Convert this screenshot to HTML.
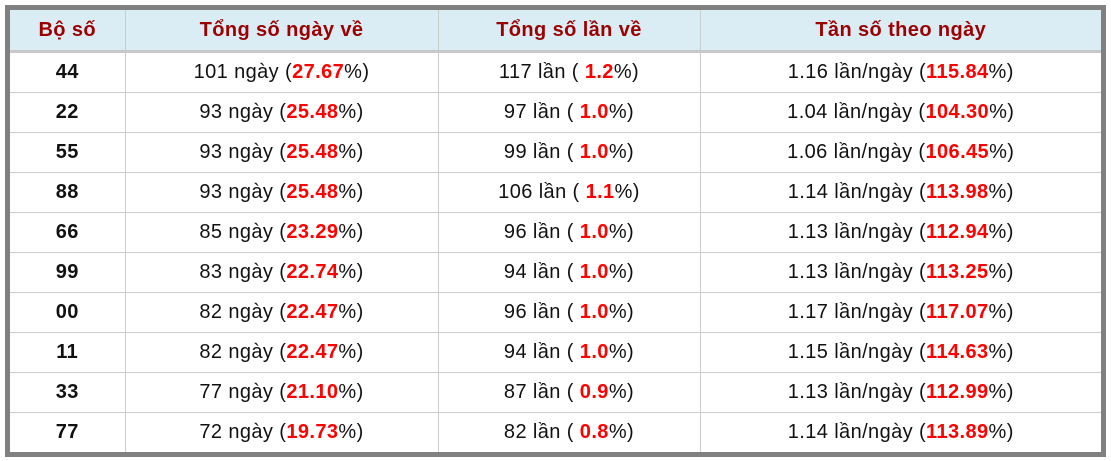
<!DOCTYPE html>
<html><head><meta charset="utf-8"><style>
body{margin:0;background:#fff;width:1111px;height:461px;overflow:hidden}
.wrap{position:absolute;left:5px;top:5px;width:1091px;border:5px solid #808080;background:#fff}
table{border-collapse:collapse;width:1091px;table-layout:fixed;font-family:"Liberation Sans",sans-serif;font-size:20px;letter-spacing:0.4px}
th{background:#daedf5;color:#9c0000;font-weight:bold;height:38px;border-bottom:3px solid #c8c8c8;border-left:1px solid #ccc}
td{height:39px;border-top:1px solid #ccc;border-left:1px solid #ccc;text-align:center;color:#111;padding:0}
tr td:first-child,tr th:first-child{border-left:none}
tr:nth-child(2) td{border-top:none}
td:first-child{font-weight:bold}
b{color:#f00}
</style></head><body><div class="wrap"><table>
<colgroup><col style="width:115px"><col style="width:313px"><col style="width:262px"><col></colgroup>
<tr><th>Bộ số</th><th>Tổng số ngày về</th><th>Tổng số lần về</th><th>Tần số theo ngày</th></tr>
<tr><td>44</td><td>101 ngày (<b>27.67</b>%)</td><td>117 lần ( <b>1.2</b>%)</td><td>1.16 lần/ngày (<b>115.84</b>%)</td></tr>
<tr><td>22</td><td>93 ngày (<b>25.48</b>%)</td><td>97 lần ( <b>1.0</b>%)</td><td>1.04 lần/ngày (<b>104.30</b>%)</td></tr>
<tr><td>55</td><td>93 ngày (<b>25.48</b>%)</td><td>99 lần ( <b>1.0</b>%)</td><td>1.06 lần/ngày (<b>106.45</b>%)</td></tr>
<tr><td>88</td><td>93 ngày (<b>25.48</b>%)</td><td>106 lần ( <b>1.1</b>%)</td><td>1.14 lần/ngày (<b>113.98</b>%)</td></tr>
<tr><td>66</td><td>85 ngày (<b>23.29</b>%)</td><td>96 lần ( <b>1.0</b>%)</td><td>1.13 lần/ngày (<b>112.94</b>%)</td></tr>
<tr><td>99</td><td>83 ngày (<b>22.74</b>%)</td><td>94 lần ( <b>1.0</b>%)</td><td>1.13 lần/ngày (<b>113.25</b>%)</td></tr>
<tr><td>00</td><td>82 ngày (<b>22.47</b>%)</td><td>96 lần ( <b>1.0</b>%)</td><td>1.17 lần/ngày (<b>117.07</b>%)</td></tr>
<tr><td>11</td><td>82 ngày (<b>22.47</b>%)</td><td>94 lần ( <b>1.0</b>%)</td><td>1.15 lần/ngày (<b>114.63</b>%)</td></tr>
<tr><td>33</td><td>77 ngày (<b>21.10</b>%)</td><td>87 lần ( <b>0.9</b>%)</td><td>1.13 lần/ngày (<b>112.99</b>%)</td></tr>
<tr><td>77</td><td>72 ngày (<b>19.73</b>%)</td><td>82 lần ( <b>0.8</b>%)</td><td>1.14 lần/ngày (<b>113.89</b>%)</td></tr>
</table></div></body></html>
